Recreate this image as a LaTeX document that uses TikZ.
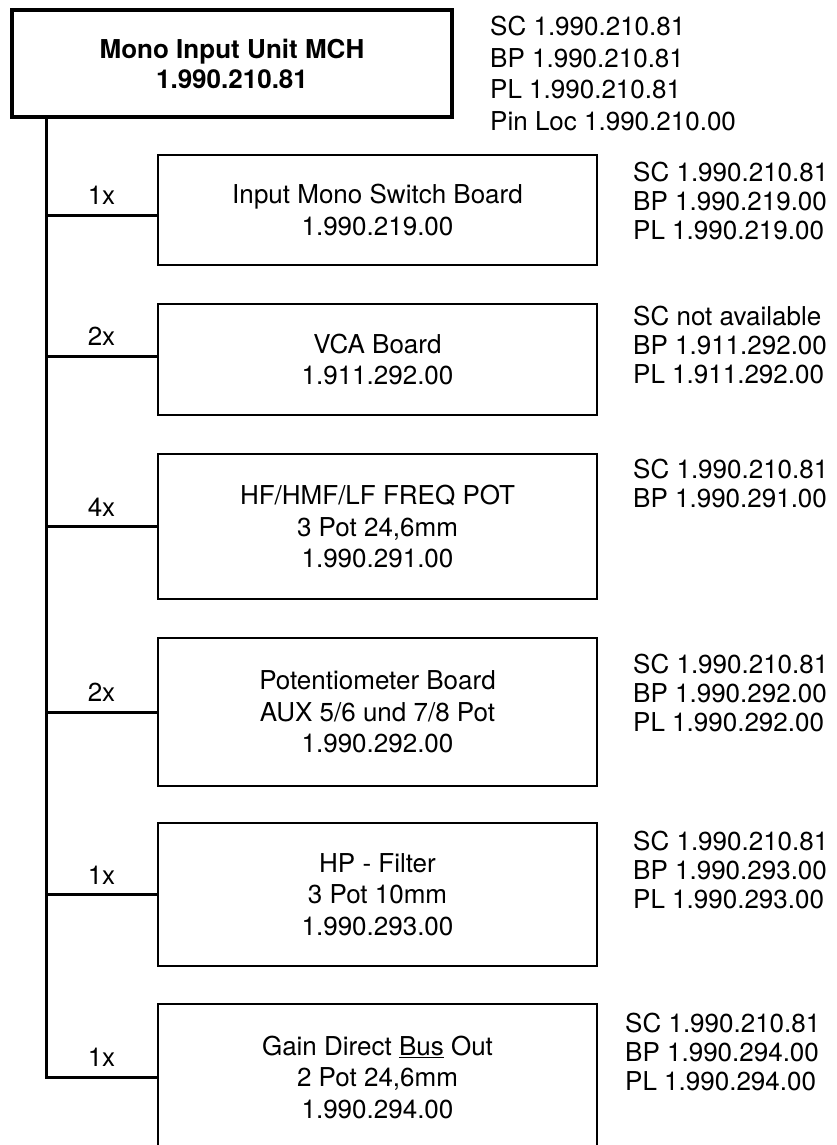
\documentclass[tikz,border=0pt]{standalone}
\usepackage{fontspec}
\setmainfont{TeX Gyre Heros}
\begin{document}
\begin{tikzpicture}[x=1pt,y=-1pt,
  every node/.style={inner sep=0pt},
  topbox/.style={draw, line width=3.2pt, minimum width=440pt, minimum height=107pt, align=center, font=\fontsize{26}{30}\selectfont\bfseries},
  partbox/.style={draw, line width=2.8pt, minimum width=439pt, minimum height=#1, align=center, font=\fontsize{26}{31.5}\selectfont},
  info/.style={anchor=north west, align=left, font=\fontsize{26}{29}\selectfont},
  qty/.style={anchor=south, yshift=9pt, font=\fontsize{26}{30}\selectfont},
  link/.style={line width=3pt},
]
\fill[white] (0,0) rectangle (836,1145);
\useasboundingbox (0,0) rectangle (836,1145);
\clip (0,0) rectangle (836,1145);

\node[topbox] (top) at (232,63.5) {Mono Input Unit MCH\\1.990.210.81};

\node[partbox=110pt] (b1) at (377.5,210) {Input Mono Switch Board\\1.990.219.00};
\node[partbox=111pt] (b2) at (377.5,359.5) {VCA Board\\1.911.292.00};
\node[partbox=145pt] (b3) at (377.5,526.5) {HF/HMF/LF FREQ POT\\3 Pot 24,6mm\\1.990.291.00};
\node[partbox=148pt] (b4) at (377.5,712) {Potentiometer Board\\AUX 5/6 und 7/8 Pot\\1.990.292.00};
\node[partbox=143pt] (b5) at (377.5,894.5) {HP - Filter\\3 Pot 10mm\\1.990.293.00};
\node[partbox=146pt] (b6) at (377.5,1077) {Gain Direct \underline{Bus} Out\\2 Pot 24,6mm\\1.990.294.00};

\node[info, font=\fontsize{26}{31.5}\selectfont] (s0) at (490,16) {SC 1.990.210.81\\BP 1.990.210.81\\PL 1.990.210.81\\Pin Loc 1.990.210.00};
\node[info] (s1) at (633,162) {SC 1.990.210.81\\BP 1.990.219.00\\PL 1.990.219.00};
\node[info] (s2) at (633,306) {SC not available\\BP 1.911.292.00\\PL 1.911.292.00};
\node[info] (s3) at (633,459) {SC 1.990.210.81\\BP 1.990.291.00};
\node[info] (s4) at (633,654) {SC 1.990.210.81\\BP 1.990.292.00\\PL 1.990.292.00};
\node[info] (s5) at (633,831) {SC 1.990.210.81\\BP 1.990.293.00\\PL 1.990.293.00};
\node[info] (s6) at (625,1013) {SC 1.990.210.81\\BP 1.990.294.00\\PL 1.990.294.00};

\coordinate (trunk) at ([xshift=36pt]top.south west);
\coordinate (e1) at ([yshift=-5pt]b1.west);
\coordinate (e2) at ([yshift=3.5pt]b2.west);
\coordinate (e3) at (b3.west);
\coordinate (e4) at (b4.west);
\coordinate (e5) at (b5.west);

\draw[link] (trunk) |- node[qty, pos=0.75] (q6) {1x} (b6.west);
\draw[link] (e1 -| trunk) -- node[qty] (q1) {1x} (e1);
\draw[link] (e2 -| trunk) -- node[qty] (q2) {2x} (e2);
\draw[link] (e3 -| trunk) -- node[qty] (q3) {4x} (e3);
\draw[link] (e4 -| trunk) -- node[qty] (q4) {2x} (e4);
\draw[link] (e5 -| trunk) -- node[qty] (q5) {1x} (e5);
\end{tikzpicture}
\end{document}
